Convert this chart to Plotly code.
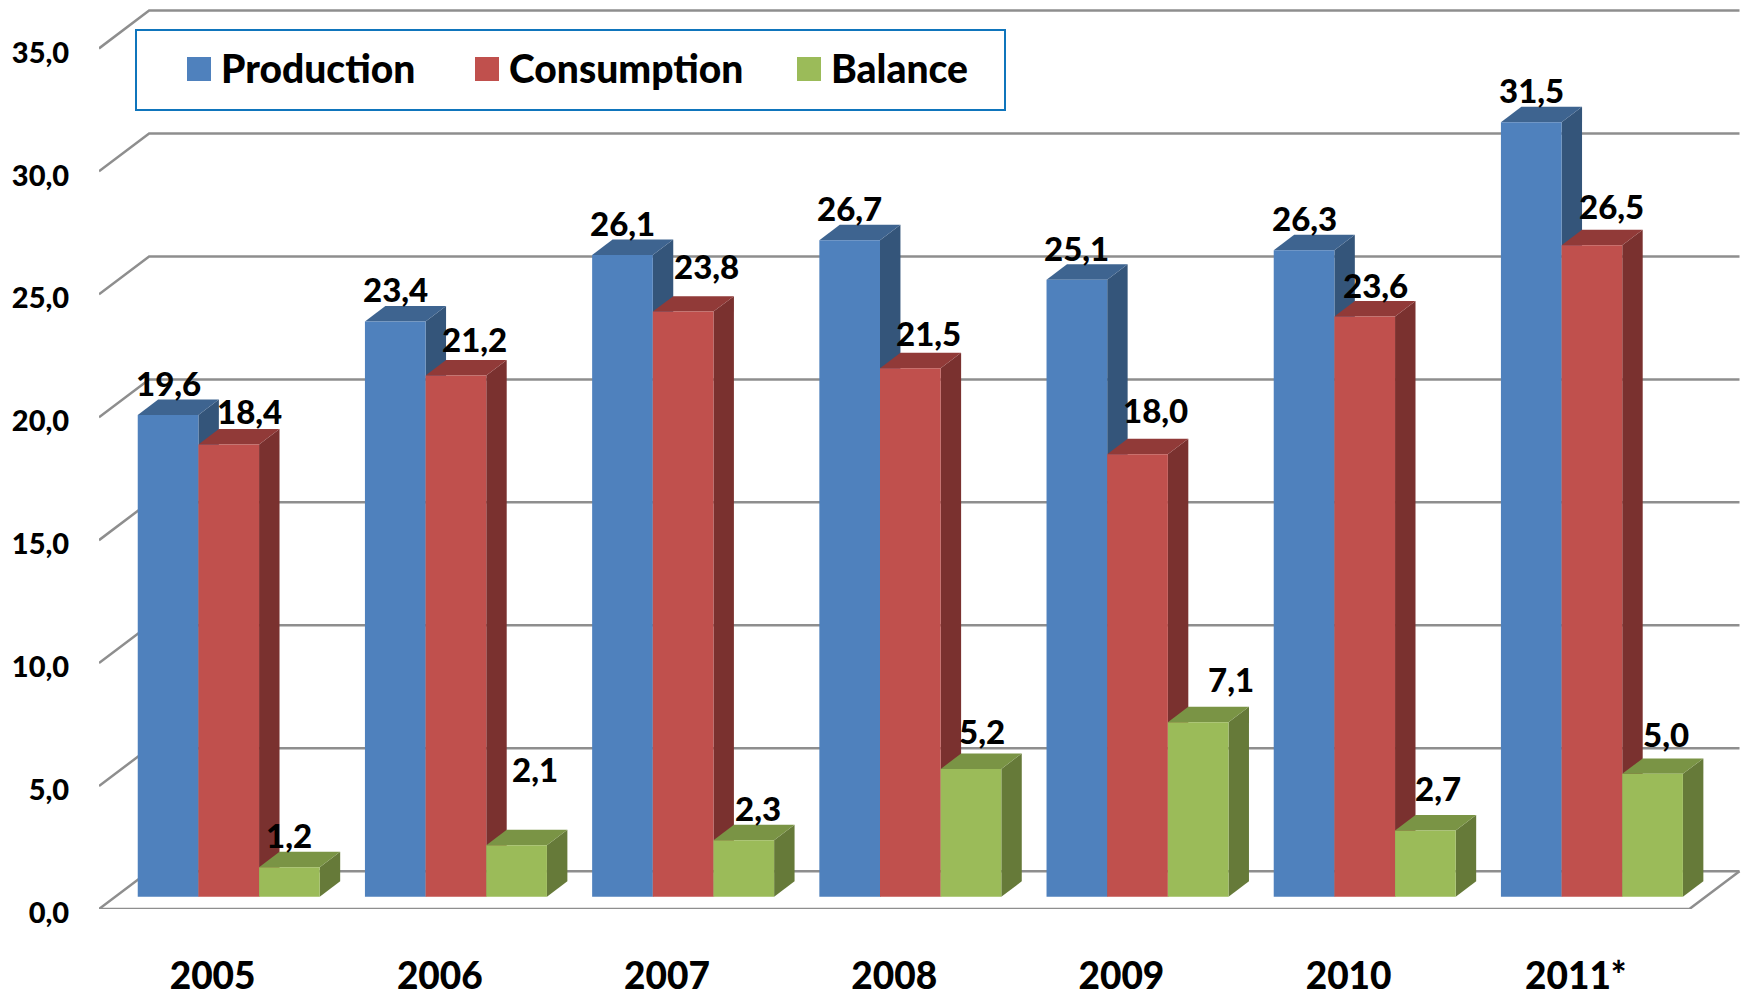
import plotly.graph_objects as go

# values
years = ["2005", "2006", "2007", "2008", "2009", "2010", "2011*"]
production = [19.6, 23.4, 26.1, 26.7, 25.1, 26.3, 31.5]
consumption = [18.4, 21.2, 23.8, 21.5, 18.0, 23.6, 26.5]
balance = [1.2, 2.1, 2.3, 5.2, 7.1, 2.7, 5.0]
y_ticks = [0, 5, 10, 15, 20, 25, 30, 35]

# front, top and side colours for each series
series = [
    ("Production", production, "#4F81BD", "#3E6490", "#34557A"),
    ("Consumption", consumption, "#C0504D", "#913A38", "#7A312F"),
    ("Balance", balance, "#9BBB59", "#7A9445", "#667A39"),
]

# hand-placed data labels: pixel shift from the centre of the front top edge
label_dx = [
    [0, 0, 0, 0, 0, 0, 0],
    [21, 19, 23, 18, 18, 11, 20],
    [0, 18, 14, 11, 33, 13, 13],
]
label_dy = [
    [32, 32, 32, 32, 32, 32, 32],
    [33, 37, 46, 35, 44, 32, 39],
    [32, 76, 32, 38, 43, 42, 40],
]

WIDTH, HEIGHT = 1746, 997
MARGIN = dict(l=99, r=3, t=0, b=88)

# fake 3D: a point at depth d moves right and up by d * (DEPTH_X, DEPTH_Y)
DEPTH_X = 0.2206
DEPTH_Y = 1.54
BAR_FRONT = 0.322
BAR_BACK = 0.73
BAR_WIDTH = 0.267
GRID_COLOR = "#8E8E8E"
FONT = "Lato, Carlito, sans-serif"

X_MIN, X_MAX = -0.5, 6.736
Y_MIN, Y_MAX = 0, 36.97


def project(x, y, depth):
    return x + depth * DEPTH_X, y + depth * DEPTH_Y


def line_shape(points, color=GRID_COLOR, width=2.5):
    path = "M" + " L".join(f"{x},{y}" for x, y in points)
    return dict(type="path", path=path, xref="x", yref="y", layer="below",
                line=dict(color=color, width=width))


def face_shape(points, color):
    path = "M" + " L".join(f"{x},{y}" for x, y in points) + " Z"
    return dict(type="path", path=path, xref="x", yref="y", layer="below",
                fillcolor=color, line=dict(width=0))


# paper coordinates follow the plot area, not the whole page
def px_x(px):
    return (px - MARGIN["l"]) / (WIDTH - MARGIN["l"] - MARGIN["r"])


def px_y(px):
    return 1 - (px - MARGIN["t"]) / (HEIGHT - MARGIN["t"] - MARGIN["b"])


fig = go.Figure()
shapes = []
annotations = []

# walls and floor
for tick in y_ticks:
    shapes.append(line_shape([project(X_MIN, tick, 0), project(X_MIN, tick, 1), project(6.5, tick, 1)]))
shapes.append(line_shape([project(X_MIN, 0, 0), project(6.5, 0, 0), project(6.5, 0, 1)]))

# bars from left to right so the nearer faces cover the previous side face
base = BAR_FRONT * DEPTH_Y
offset0 = BAR_FRONT * DEPTH_X
for k, (name, values, front, top, side) in enumerate(series):
    offset = offset0 + (k - 1.5) * BAR_WIDTH
    fig.add_trace(go.Bar(
        name=name,
        x=list(range(len(years))),
        y=values,
        base=base,
        width=BAR_WIDTH,
        offset=offset,
        marker=dict(color=front, line=dict(width=0)),
        showlegend=False,
        hovertemplate="%{y:.1f}<extra>" + name + "</extra>",
    ))

    for i, value in enumerate(values):
        left = i + offset
        right = left + BAR_WIDTH
        height = value + base
        x0, y0 = project(left, value, BAR_BACK - BAR_FRONT)
        x1, y1 = project(right, value, BAR_BACK - BAR_FRONT)
        x2, y2 = project(right, 0, BAR_BACK - BAR_FRONT)
        shift = base
        shapes.append(face_shape([(right, shift), (right, height), (x1, y1 + shift), (x2, y2 + shift)], side))
        shapes.append(face_shape([(left, height), (right, height), (x1, y1 + shift), (x0, y0 + shift)], top))

        annotations.append(dict(
            x=left + BAR_WIDTH / 2,
            y=height,
            xref="x",
            yref="y",
            text=f"{value:.1f}".replace(".", ","),
            showarrow=False,
            xanchor="center",
            yanchor="middle",
            xshift=label_dx[k][i],
            yshift=label_dy[k][i],
            font=dict(family=FONT, size=33, color="black", weight=900),
        ))

# legend is drawn by hand, plotly's own swatches can't get this big
shapes.append(dict(type="rect", xref="paper", yref="paper", layer="above",
                   x0=px_x(136), x1=px_x(1005), y0=px_y(110), y1=px_y(30),
                   fillcolor="white", line=dict(color="#0F75BC", width=2)))
legend_x = [187, 475, 797]
for (name, values, front, top, side), lx in zip(series, legend_x):
    shapes.append(dict(type="rect", xref="paper", yref="paper", layer="above",
                       x0=px_x(lx), x1=px_x(lx + 24), y0=px_y(81), y1=px_y(57),
                       fillcolor=front, line=dict(width=0)))
    annotations.append(dict(
        x=px_x(lx + 32),
        y=px_y(68),
        xref="paper",
        yref="paper",
        text=name,
        showarrow=False,
        xanchor="left",
        yanchor="middle",
        font=dict(family=FONT, size=39, color="black", weight=900),
    ))

fig.update_xaxes(
    range=[X_MIN, X_MAX],
    tickvals=list(range(len(years))),
    ticktext=years,
    tickfont=dict(family=FONT, size=37, color="black", weight=900),
    ticks="outside",
    ticklen=35,
    tickcolor="rgba(0,0,0,0)",
    showgrid=False,
    zeroline=False,
    showline=False,
)
fig.update_yaxes(
    range=[Y_MIN, Y_MAX],
    tickvals=y_ticks,
    ticktext=[f"{t:.1f}".replace(".", ",") for t in y_ticks],
    tickfont=dict(family=FONT, size=29, color="black", weight=900),
    ticks="outside",
    ticklen=23,
    ticklabelshift=4,
    tickcolor="rgba(0,0,0,0)",
    showgrid=False,
    zeroline=False,
    showline=False,
)
fig.update_layout(
    width=WIDTH,
    height=HEIGHT,
    margin=MARGIN,
    barmode="overlay",
    paper_bgcolor="white",
    plot_bgcolor="white",
    shapes=shapes,
    annotations=annotations,
    showlegend=False,
)

fig.write_html("out.html", config={"displayModeBar": False},
               post_script="document.body.style.margin='0';")
